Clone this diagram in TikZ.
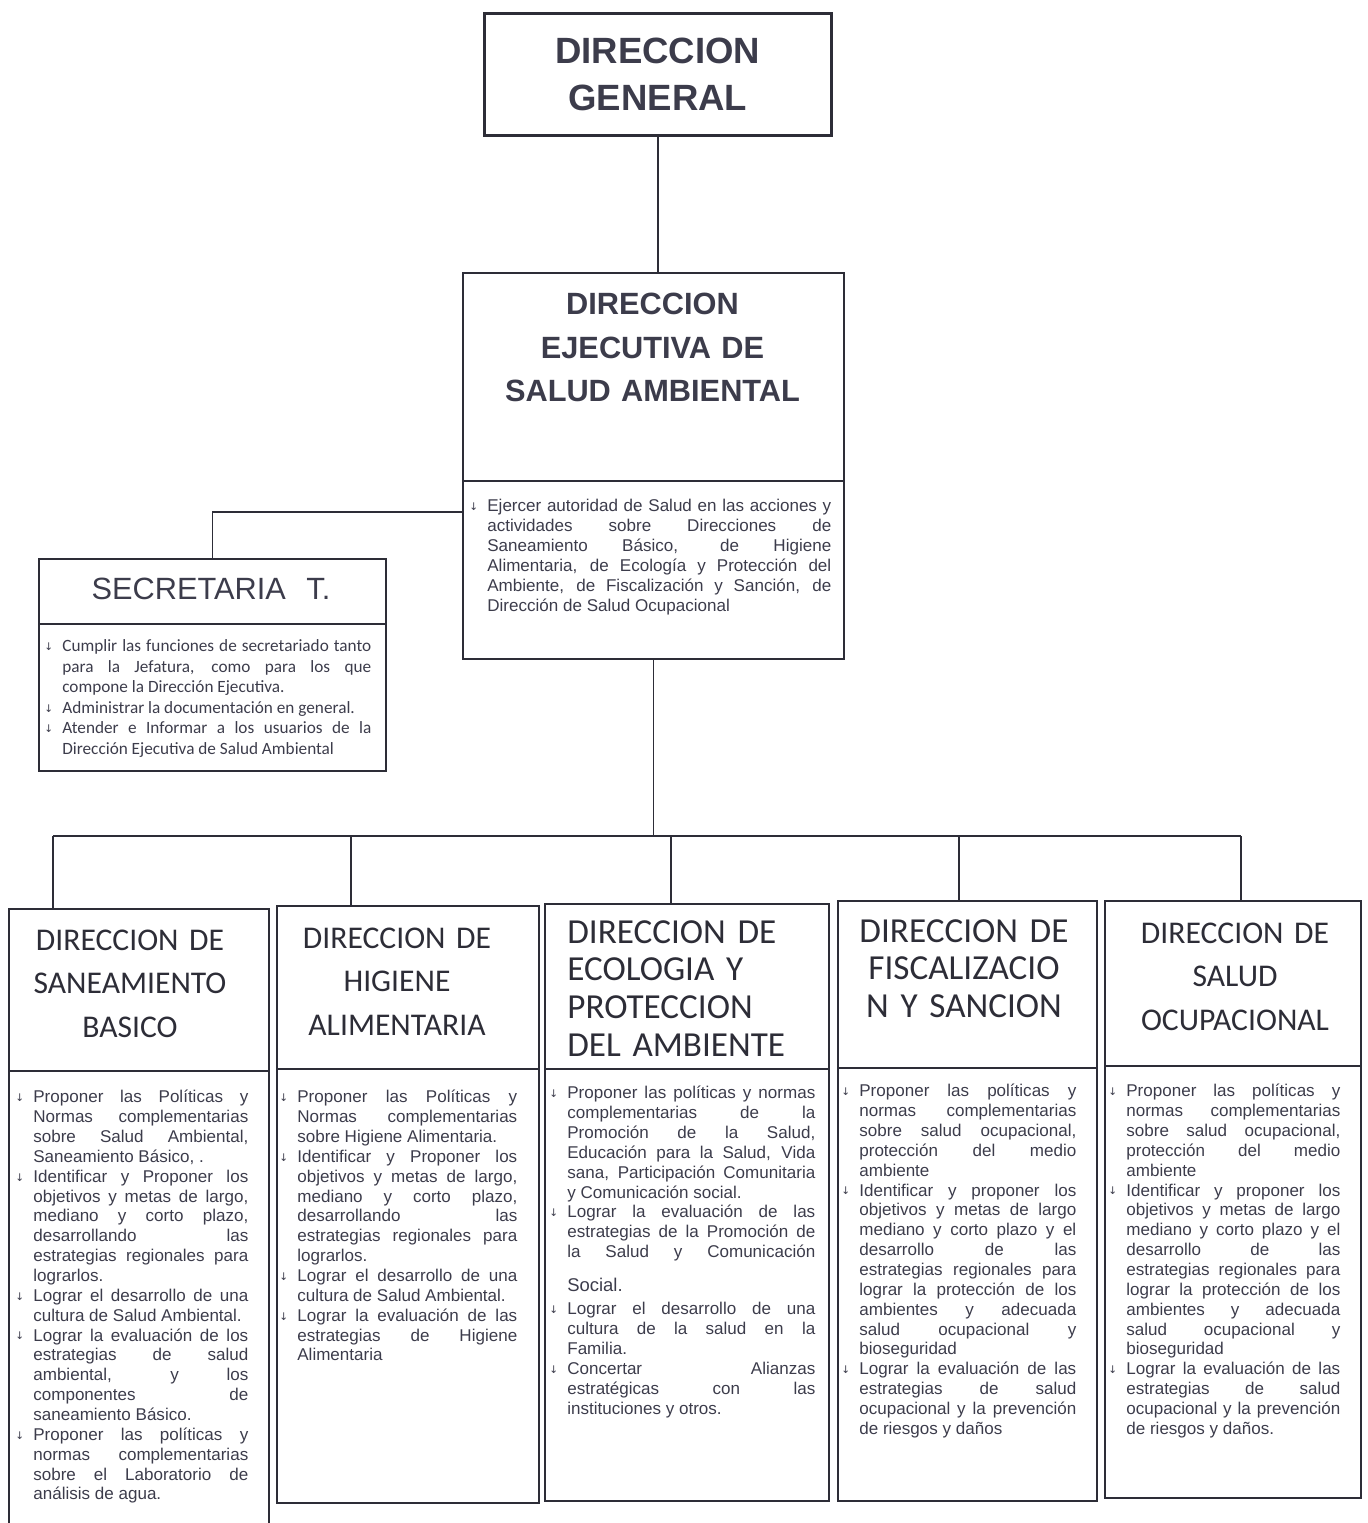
\documentclass[tikz,border=0pt]{standalone}
\usepackage{fontspec}
\setmainfont{Liberation Sans}
\newfontfamily\calfont{Carlito}
\newfontfamily\arrowfont{DejaVu Sans}

\definecolor{ink}{RGB}{45,45,55}
\definecolor{txt}{RGB}{60,60,75}

% bullet and hanging item
\newlength{\bh}
\setlength{\bh}{0.36cm}
\newcommand{\bul}{{\arrowfont\fontsize{6}{6}\selectfont\raisebox{0.2ex}{↓}}}
\newcommand{\itm}{\par\noindent\hangindent=\bh\hangafter=1\hbox to\bh{\bul\hfil}}

\tikzset{
	box/.style={draw=ink, line width=1.1pt, inner sep=0pt, anchor=north west},
	link/.style={draw=ink, line width=1pt},
	titulo/.style={anchor=base, inner sep=0pt, text=txt, align=center},
	lista/.style={anchor=base west, inner sep=0pt, text=txt, align=justify,
		font={\fontsize{9.7}{11.3}\selectfont},
		execute at begin node={\tolerance=10000\hyphenpenalty=10000\emergencystretch=0pt}},
}

\begin{document}
\begin{tikzpicture}[x=0.02cm,y=-0.02cm]

		\useasboundingbox (0,0) rectangle (1367,1523);

		% direccion general
		\node[box, line width=1.5pt, minimum width=6.94cm, minimum height=2.44cm, text width=6.94cm, align=center, text=txt,
			font={\fontsize{20.8}{26.8}\selectfont\bfseries}] (dg) at (483,12) {DIRECCION\\GENERAL};

		% direccion ejecutiva
		\node[box, minimum width=7.62cm, minimum height=4.16cm] (desa) at (462,272) {};
		\node[box, minimum width=7.62cm, minimum height=3.56cm] (desaB) at (462,480) {};
		\node[titulo, text width=7cm, font={\fontsize{17.5}{24.5}\selectfont\bfseries}] (desaT) at (652.5,315)
			{DIRECCION\\EJECUTIVA DE\\SALUD AMBIENTAL};
		\node[lista, text width=7.24cm] (desaL) at (469,492) {%
			\itm Ejercer autoridad de Salud en las acciones y\linebreak actividades sobre Direcciones de\linebreak
			Saneamiento Básico, de Higiene\linebreak Alimentaria, de Ecología y Protección del\linebreak
			Ambiente, de Fiscalización y Sanción, de\linebreak Dirección de Salud Ocupacional\par};

		% secretaria
		\node[box, minimum width=6.94cm, minimum height=1.30cm] (sec) at (38,558) {};
		\node[box, minimum width=6.94cm, minimum height=2.94cm] (secB) at (38,623) {};
		\node[titulo, text width=6.5cm, font={\fontsize{17.5}{20}\selectfont}] (secT) at (211,599) {SECRETARIA~ T.};
		\node[lista, text width=6.54cm, font={\calfont\fontsize{9.8}{11.7}\selectfont}] (secL) at (44,631) {%
			\itm Cumplir las funciones de secretariado tanto\linebreak para la Jefatura, como para los que\linebreak
			compone la Dirección Ejecutiva.
			\itm Administrar la documentación en general.
			\itm Atender e Informar a los usuarios de la\linebreak Dirección Ejecutiva de Salud Ambiental\par};

		% direcciones de linea
		\node[box, minimum width=5.20cm, minimum height=3.24cm] (san) at (8,908) {};
		\node[box, minimum width=5.20cm, minimum height=9.40cm] (sanB) at (8,1070) {};
		\node[box, minimum width=5.24cm, minimum height=3.26cm] (hig) at (276,905) {};
		\node[box, minimum width=5.24cm, minimum height=8.68cm] (higB) at (276,1068) {};
		\node[box, minimum width=5.68cm, minimum height=3.30cm] (eco) at (544,903) {};
		\node[box, minimum width=5.68cm, minimum height=8.64cm] (ecoB) at (544,1068) {};
		\node[box, minimum width=5.18cm, minimum height=3.34cm] (fis) at (837,900) {};
		\node[box, minimum width=5.18cm, minimum height=8.66cm] (fisB) at (837,1067) {};
		\node[box, minimum width=5.12cm, minimum height=3.30cm] (ocu) at (1104,900) {};
		\node[box, minimum width=5.12cm, minimum height=8.64cm] (ocuB) at (1104,1065) {};

		% titulos
		\node[titulo, text width=5cm, text=ink, font={\calfont\fontsize{18}{25}\selectfont}] (sanT) at (130,950)
			{DIRECCION DE\\SANEAMIENTO\\BASICO};
		\node[titulo, text width=5cm, text=ink, font={\calfont\fontsize{18}{25}\selectfont}] (higT) at (397,948)
			{DIRECCION DE\\HIGIENE\\ALIMENTARIA};
		\node[titulo, anchor=base west, align=left, text width=5cm, text=ink, font={\calfont\fontsize{20}{21.6}\selectfont}] (ecoT) at (567,943)
			{DIRECCION DE\\ECOLOGIA Y\\PROTECCION\\DEL AMBIENTE};
		\node[titulo, text width=5cm, text=ink, font={\calfont\fontsize{20}{21.6}\selectfont}] (fisT) at (964,942)
			{DIRECCION DE\\FISCALIZACIO\\N Y SANCION};
		\node[titulo, text width=5cm, text=ink, font={\calfont\fontsize{18}{25}\selectfont}] (ocuT) at (1235,943)
			{DIRECCION DE\\SALUD\\OCUPACIONAL};

		% funciones
		\node[lista, text width=4.66cm] (sanL) at (15,1083) {%
			\itm Proponer las Políticas y\linebreak Normas complementarias\linebreak sobre Salud Ambiental,\linebreak Saneamiento Básico, .
			\itm Identificar y Proponer los\linebreak objetivos y metas de largo,\linebreak mediano y corto plazo,\linebreak
			desarrollando las\linebreak estrategias regionales para\linebreak lograrlos.
			\itm Lograr el desarrollo de una\linebreak cultura de Salud Ambiental.
			\itm Lograr la evaluación de los\linebreak estrategias de salud\linebreak ambiental, y los\linebreak
			componentes de\linebreak saneamiento Básico.
			\itm Proponer las políticas y\linebreak normas complementarias\linebreak sobre el Laboratorio de\linebreak análisis de agua.\par};
		\node[lista, text width=4.76cm] (higL) at (279,1083) {%
			\itm Proponer las Políticas y\linebreak Normas complementarias\linebreak sobre Higiene Alimentaria.
			\itm Identificar y Proponer los\linebreak objetivos y metas de largo,\linebreak mediano y corto plazo,\linebreak
			desarrollando las\linebreak estrategias regionales para\linebreak lograrlos.
			\itm Lograr el desarrollo de una\linebreak cultura de Salud Ambiental.
			\itm Lograr la evaluación de las\linebreak estrategias de Higiene\linebreak Alimentaria\par};
		\node[lista, text width=5.32cm] (ecoL) at (549,1079) {%
			\itm Proponer las políticas y normas\linebreak complementarias de la\linebreak Promoción de la Salud,\linebreak
			Educación para la Salud, Vida\linebreak sana, Participación Comunitaria\linebreak y Comunicación social.
			\itm Lograr la evaluación de las\linebreak estrategias de la Promoción de\linebreak la Salud y Comunicación{\parfillskip=0pt\par}
			\vspace{8pt}\noindent\hspace*{\bh}{\fontsize{10.5}{11.3}\selectfont Social.}\par\vspace{2pt}
			\itm Lograr el desarrollo de una\linebreak cultura de la salud en la\linebreak Familia.
			\itm Concertar Alianzas\linebreak estratégicas con las\linebreak instituciones y otros.\par};
		\node[lista, text width=4.70cm] (fisL) at (841,1077) {%
			\itm Proponer las políticas y\linebreak normas complementarias\linebreak sobre salud ocupacional,\linebreak
			protección del medio\linebreak ambiente
			\itm Identificar y proponer los\linebreak objetivos y metas de largo\linebreak mediano y corto plazo y el\linebreak
			desarrollo de las\linebreak estrategias regionales para\linebreak lograr la protección de los\linebreak
			ambientes y adecuada\linebreak salud ocupacional y\linebreak bioseguridad
			\itm Lograr la evaluación de las\linebreak estrategias de salud\linebreak ocupacional y la prevención\linebreak de riesgos y daños\par};
		\node[lista, text width=4.64cm] (ocuL) at (1108,1077) {%
			\itm Proponer las políticas y\linebreak normas complementarias\linebreak sobre salud ocupacional,\linebreak
			protección del medio\linebreak ambiente
			\itm Identificar y proponer los\linebreak objetivos y metas de largo\linebreak mediano y corto plazo y el\linebreak
			desarrollo de las\linebreak estrategias regionales para\linebreak lograr la protección de los\linebreak
			ambientes y adecuada\linebreak salud ocupacional y\linebreak bioseguridad
			\itm Lograr la evaluación de las\linebreak estrategias de salud\linebreak ocupacional y la prevención\linebreak de riesgos y daños.\par};

		% conectores
		\draw[link] (dg.south) -- (dg.south |- desa.north);
		\draw[link] ([yshift=-0.64cm]desaB.north west) -| (sec.north);

		\coordinate (bus) at (656,836);
		\coordinate (dsan) at ([xshift=-1.72cm]san.north);
		\coordinate (dhig) at ([xshift=-1.14cm]hig.north);
		\coordinate (deco) at ([xshift=-0.32cm]eco.north);
		\coordinate (dfis) at ([xshift=-0.17cm]fis.north);
		\coordinate (docu) at ([xshift=0.16cm]ocu.north);

		\draw[link] (desaB.south) -- (desaB.south |- bus);
		\draw[link] (dsan |- bus) -- (docu |- bus);
		\draw[link] (dsan |- bus) -- (dsan);
		\draw[link] (dhig |- bus) -- (dhig);
		\draw[link] (deco |- bus) -- (deco);
		\draw[link] (dfis |- bus) -- (dfis);
		\draw[link] (docu |- bus) -- (docu);

\end{tikzpicture}
\end{document}
